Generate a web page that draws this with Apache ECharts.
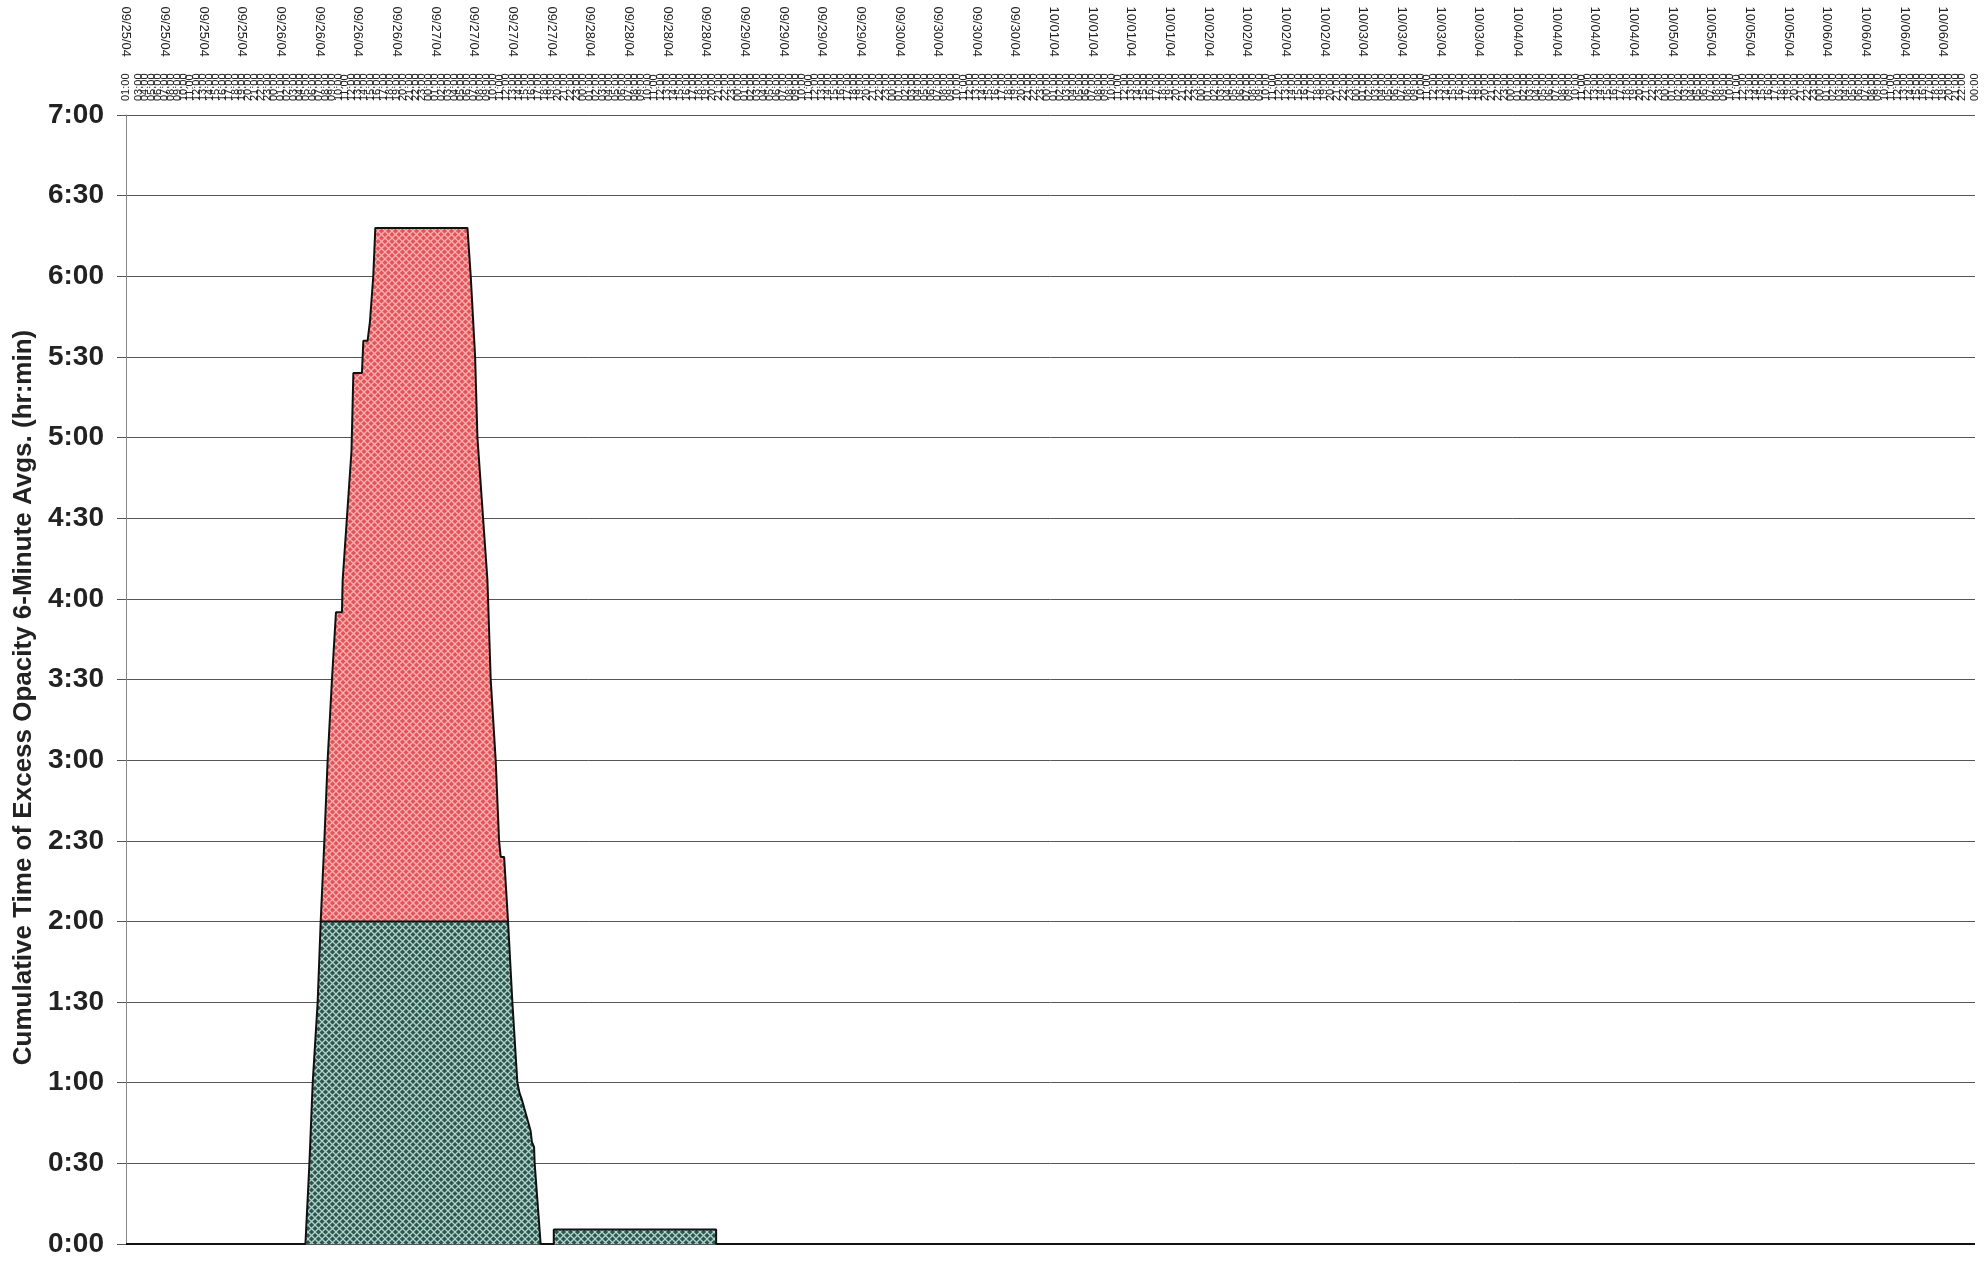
<!DOCTYPE html>
<html>
<head>
<meta charset="utf-8">
<script src="https://cdn.jsdelivr.net/npm/echarts@6/dist/echarts.min.js"></script>
<style>
html,body{margin:0;padding:0;background:#fff;}
#chart{width:1988px;height:1261px;}
</style>
</head>
<body>
<div id="chart"></div>
<script>
// x values: hours since 09/25/04 01:00 ; y values: minutes
const dayLabels = ['09/25/04','09/26/04','09/27/04','09/28/04','09/29/04','09/30/04',
  '10/01/04','10/02/04','10/03/04','10/04/04','10/05/04','10/06/04'];
const hourLabels = ['01:00','02:00','03:00','04:00','05:00','06:00','07:00','08:00','09:00','10:00',
  '11:00','12:00','13:00','14:00','15:00','16:00','17:00','18:00','19:00','20:00','21:00','22:00','23:00','00:00'];

// Green (up to 2:00) series: [hour, minutes]
const greenHours = [0, 27.85, 28.47, 28.98, 29.75, 30.22, 59.3, 59.97, 60.75, 61.1, 61.41, 62.81, 63.0, 63.34, 63.43, 64.36, 66.4, 66.4, 91.6, 91.6, 287];
const greenMins  = [0, 0,     30,    60,    90,    120,   120,  90,    60,    56,   54,    42,    38,   36,    30,    0,     0,    5.4,  5.4,  0,    0];

// Red (above 2:00) series: [hour, minutes]
const redHours = [30.22, 30.79, 31.30, 31.97, 32.59, 33.52, 33.63, 35.0, 35.29, 36.62, 36.84, 37.50, 37.86, 38.38, 38.70, 53.0, 53.51, 54.19, 54.55, 56.10, 56.61, 57.38, 57.91, 58.16, 58.69, 59.3];
const redMins  = [120,   150,   180,   210,   235,   235,   247,   295,  324,   324,   336,   336,   343,   360,   378,   378,  360,   330,   300,   247,   210,   180,   150,   144,   144,   120];

function pattern(base, line){
  const c = document.createElement('canvas');
  c.width = 7; c.height = 7;
  const g = c.getContext('2d');
  g.fillStyle = base; g.fillRect(0,0,7,7);
  g.strokeStyle = line; g.lineWidth = 1.3;
  g.beginPath();
  g.moveTo(-1,-1); g.lineTo(8,8);
  g.moveTo(8,-1); g.lineTo(-1,8);
  g.stroke();
  return {image: c, repeat: 'repeat'};
}

function fmtMin(v){
  const h = Math.floor(v/60), m = Math.round(v%60);
  return h + ':' + (m<10?'0':'') + m;
}

const font = '"Liberation Sans", Arial, sans-serif';
const chart = echarts.init(document.getElementById('chart'));
chart.setOption({
  animation: false,
  backgroundColor: '#fff',
  grid: {left: 126, right: 13, top: 115, bottom: 17},
  xAxis: [
    {
      type: 'value', position: 'top', min: 0, max: 287, interval: 1,
      axisLine: {show: false}, axisTick: {show: false}, splitLine: {show: false},
      axisLabel: {
        rotate: 90, margin: 14, fontSize: 11, color: '#222', fontFamily: font,
        showMaxLabel: true, showMinLabel: true,
        formatter: v => hourLabels[Math.round(v) % 24]
      }
    },
    {
      type: 'value', position: 'top', min: 0, max: 287, interval: 6, offset: 52,
      axisLine: {show: false}, axisTick: {show: false}, splitLine: {show: false},
      axisLabel: {
        rotate: 90, margin: 6, fontSize: 13, color: '#222', fontFamily: font,
        showMaxLabel: false,
        formatter: v => (Math.round(v) % 6 === 0 ? dayLabels[Math.floor(Math.round(v)/24)] : '')
      }
    }
  ],
  yAxis: {
    type: 'value', min: 0, max: 420, interval: 30,
    name: 'Cumulative Time of Excess Opacity 6-Minute Avgs. (hr:min)',
    nameLocation: 'middle', nameGap: 86, nameRotate: 90,
    nameTextStyle: {fontSize: 26, fontWeight: 'bold', color: '#222', fontFamily: font,
      padding: [0, 36, 0, 0]},
    axisLine: {show: true, lineStyle: {color: '#888', width: 1}},
    axisTick: {show: true, length: 9, lineStyle: {color: '#555'}},
    axisLabel: {fontSize: 28, fontWeight: 'bold', color: '#222', margin: 22, fontFamily: font,
      formatter: v => fmtMin(v)},
    splitLine: {show: true, lineStyle: {color: '#555', width: 1}}
  },
  series: [
    {
      type: 'line', xAxisIndex: 0,
      data: redHours.map((h,i) => [h, redMins[i]]),
      showSymbol: false, smooth: false,
      lineStyle: {color: '#111', width: 2},
      areaStyle: {origin: 120, color: pattern('#e2545a', '#f9b0ae'), opacity: 1},
      z: 3
    },
    {
      type: 'line', xAxisIndex: 0,
      data: greenHours.map((h,i) => [h, greenMins[i]]),
      showSymbol: false, smooth: false,
      lineStyle: {color: '#111', width: 2},
      areaStyle: {origin: 'start', color: pattern('#2c574f', '#b3d3cc'), opacity: 1},
      z: 4
    }
  ]
});
</script>
</body>
</html>
